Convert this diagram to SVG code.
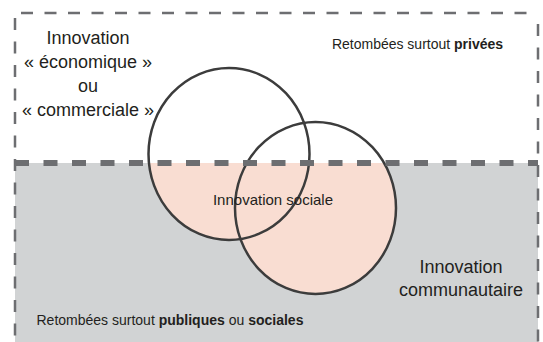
<svg xmlns="http://www.w3.org/2000/svg" width="543" height="342" viewBox="0 0 543 342">
<style>
  text { font-family: "Liberation Sans", Arial, sans-serif; fill: #231f20; }
  .big { font-size: 18px; }
  .mid { font-size: 15px; }
  .small { font-size: 14px; }
  .b { font-weight: bold; }
  .frame { stroke: #6d6e71; stroke-width: 2.5; stroke-dasharray: 12 11.5; fill: none; }
  .divider { stroke: #6d6e71; stroke-width: 6; stroke-dasharray: 14 14.5; fill: none; }
  .ring { fill: none; stroke: #3c3c3c; stroke-width: 2.5; }
  .pink { fill: #f9ddd2; }
</style>
<defs>
  <clipPath id="lower">
    <rect x="0" y="163" width="543" height="179"/>
  </clipPath>
</defs>

<g id="background">
  <rect x="15" y="163" width="523" height="179" fill="#d1d3d4"/>
</g>

<g id="pink-fill" clip-path="url(#lower)">
  <ellipse class="pink" cx="229" cy="154" rx="80.5" ry="86"/>
  <ellipse class="pink" cx="315.5" cy="208" rx="80.5" ry="86"/>
</g>

<g id="circle-economique">
  <ellipse class="ring" cx="229" cy="154" rx="80.5" ry="86"/>
</g>
<g id="circle-communautaire">
  <ellipse class="ring" cx="315.5" cy="208" rx="80.5" ry="86"/>
</g>

<g id="connectors">
  <line class="frame" x1="21" y1="13" x2="538" y2="13"/>
  <line class="frame" x1="15" y1="18" x2="15" y2="342"/>
  <line class="frame" x1="538" y1="24" x2="538" y2="342"/>
  <line class="divider" x1="15" y1="163" x2="538" y2="163"/>
</g>

<g id="label-economique">
  <text class="big" x="88" y="44" text-anchor="middle">Innovation</text>
  <text class="big" x="88" y="68" text-anchor="middle">« économique »</text>
  <text class="big" x="88" y="92" text-anchor="middle">ou</text>
  <text class="big" x="88" y="116" text-anchor="middle">« commerciale »</text>
</g>

<g id="label-privees">
  <text class="small" x="417.5" y="49" text-anchor="middle">Retombées surtout <tspan class="b">privées</tspan></text>
</g>

<g id="label-sociale">
  <text class="mid" x="273" y="205" text-anchor="middle">Innovation sociale</text>
</g>

<g id="label-communautaire">
  <text class="big" x="461" y="273" text-anchor="middle">Innovation</text>
  <text class="big" x="461" y="296" text-anchor="middle">communautaire</text>
</g>

<g id="label-publiques">
  <text class="small" x="36.5" y="325">Retombées surtout <tspan class="b">publiques</tspan> ou <tspan class="b">sociales</tspan></text>
</g>
</svg>
